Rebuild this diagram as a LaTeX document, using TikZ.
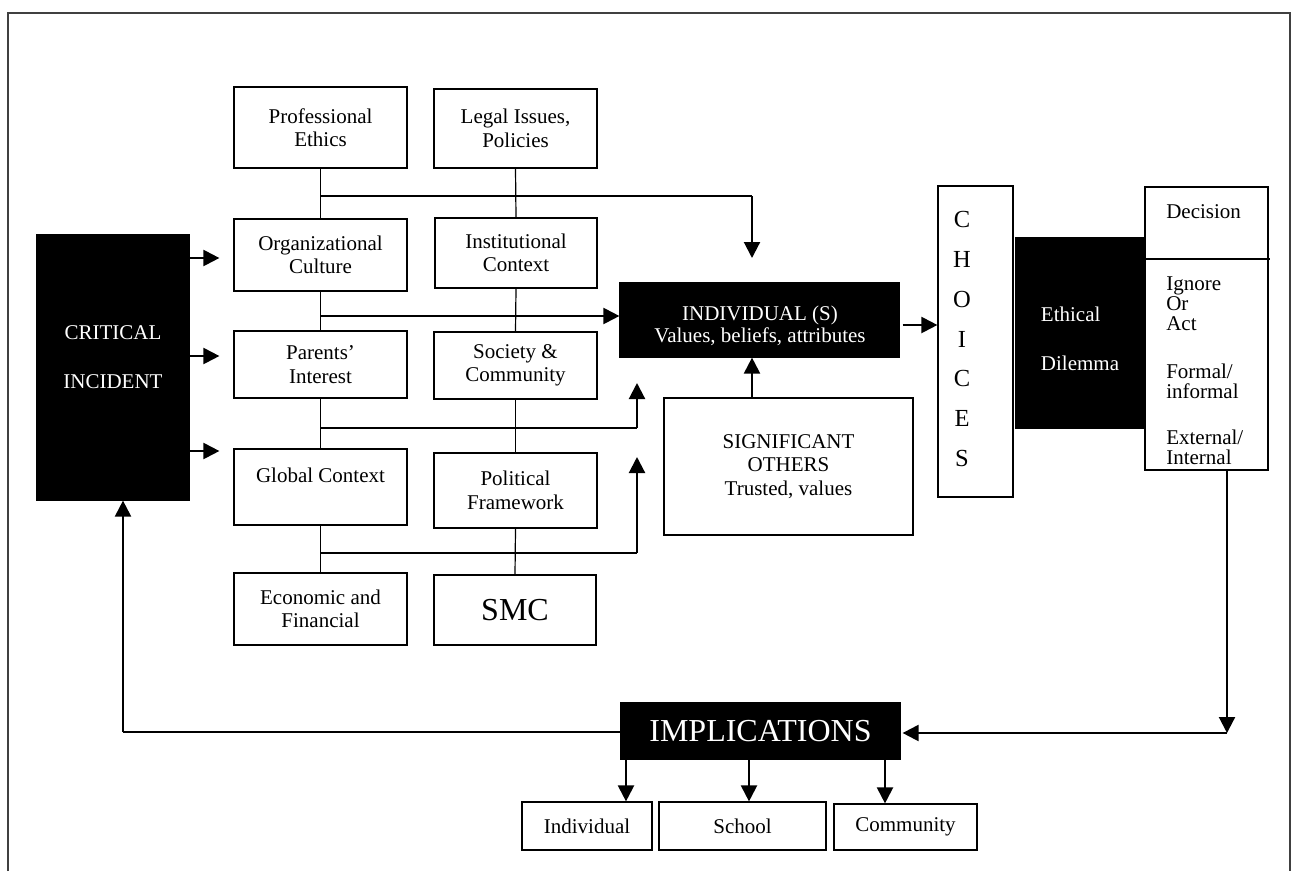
\documentclass[tikz,border=0pt]{standalone}
\usepackage{fontspec}
\setmainfont{Liberation Serif}
\usetikzlibrary{arrows.meta,calc}

% body text size and the larger headline size
\newcommand\bodyfont{\fontsize{15.75}{17.6}\selectfont}
\newcommand\bigfont{\fontsize{24}{28}\selectfont}

\begin{document}
\begin{tikzpicture}[x=0.75pt,y=-0.75pt,
  % a node spanning the corners (x1,y1) and (x2,y2)
  area/.style n args={4}{at={({(#1+#3)/2},{(#2+#4)/2})},
    minimum width={(#3-#1)*0.75pt}, minimum height={(#4-#2)*0.75pt}},
  box/.style={draw, line width=0.9pt, inner sep=0pt, align=center, font=\bodyfont},
  blk/.style={fill=black, draw=black, line width=0.9pt, inner sep=0pt, text=white, align=center, font=\bodyfont},
  wtext/.style={font=\bodyfont, text=white, inner sep=0pt},
  link/.style={line width=0.9pt},
  arr/.style={line width=1.6pt, -{Triangle[length=12pt,width=12pt]}},
  frame/.style={line width=1.5pt, draw=black!75},
]
\useasboundingbox (0,0) rectangle (1294,871);

% page frame (open at the bottom)
\draw[frame] (8,871) -- (8,13) -- (1290,13) -- (1290,871);

% critical incident
\node[blk, area={37}{235}{189}{500}] (ci) {};
\node[wtext, align=center] (citext) at (113,357.5) {CRITICAL\\[19pt]INCIDENT};

% contextual factors, two columns
\node[box, area={234}{87}{407}{168}]  (prof)  {Professional\\Ethics};
\node[box, area={434}{89}{597}{168}]  (legal) {Legal Issues,\\Policies};
\node[box, area={234}{219}{407}{291}] (org)   {Organizational\\Culture};
\node[box, area={435}{218}{597}{288}] (inst)  {Institutional\\Context};
\node[box, area={234}{331}{407}{398}] (par)   {Parents’\\Interest};
\node[box, area={434}{332}{597}{399}] (soc)   {Society \&\\Community};
\node[box, area={234}{449}{407}{525}] (glob)  {Global Context\\\mbox{}};
\node[box, area={434}{453}{597}{528}] (pol)   {Political\\Framework};
\node[box, area={234}{573}{407}{645}] (eco)   {Economic and\\Financial};
\node[box, area={434}{575}{596}{645}, font=\bigfont] (smc) {SMC};

% the individual and significant others
\node[blk, area={620}{283}{899}{357}] (indiv) {};
\node[wtext, align=center, font=\fontsize{15.75}{16.5}\selectfont] (indivtext) at (760,326) {INDIVIDUAL (S)\\Values, beliefs, attributes};
\node[box, area={664}{398}{913}{535}] (sig) {SIGNIFICANT\\OTHERS\\Trusted, values};

% choices, dilemma, decision
\node[box, area={938}{186}{1013}{497}] (choices) {};
\node[font=\fontsize{18.4}{29.8}\selectfont, align=center, inner sep=0pt] (choicestext) at (962,339) {C\\H\\O\\I\\C\\E\\S};
\node[blk, area={1016}{238}{1144}{428}] (eth) {};
\node[wtext, align=left] (ethtext) at (1080,339) {Ethical\\[19pt]Dilemma};
\node[box, area={1145}{187}{1268}{470}] (dec) {};
\node[font=\bodyfont, anchor=base west, inner sep=0pt] (dectitle) at (1166,218) {Decision};
\draw[line width=1.6pt] ($(dec.west |- 0,259)+(2,0)$) -- ($(dec.east |- 0,259)+(1,0)$);
\node[font=\fontsize{15.75}{15}\selectfont, align=left, anchor=north west, inner sep=0pt] (decopts) at (1166,276)
  {Ignore\\Or\\Act\\[21.3pt]Formal/\\informal\\[19.3pt]External/\\Internal};

% implications and who they reach
\node[blk, area={621}{703}{900}{759}, font=\bigfont] (impl) {IMPLICATIONS};
\node[box, area={522}{802}{652}{850}] (ind2) {Individual};
\node[box, area={659}{802}{826}{850}] (sch)  {School};
\node[box, area={834}{804}{977}{850}] (com)  {Community\strut};

% column spines
\draw[link] (prof.south) -- (org.north);
\draw[link] (legal.south) -- (inst.north);
\draw[link] (org.south) -- (par.north);
\draw[link] (inst.south) -- (soc.north);
\draw[link] (par.south) -- (glob.north);
\draw[link] (soc.south) -- (pol.north);
\draw[link] (glob.south) -- (eco.north);
\draw[link] (pol.south) -- (smc.north);

% branches feeding the individual
\coordinate (b1) at (prof.south |- 0,196);
\coordinate (k1) at (752,196);
\coordinate (e1) at (752,258);
\draw[link] (b1) -- (k1);
\draw[arr] (k1) -- (e1);

\draw[arr] (org.south |- 0,316) -- (indiv.west |- 0,316);

\coordinate (b3) at (par.south |- 0,428);
\coordinate (k3) at (637,428);
\coordinate (e3) at (637,383);
\draw[link] (b3) -- (k3);
\draw[arr] (k3) -- (e3);

\coordinate (b4) at (glob.south |- 0,553);
\coordinate (k4) at (637,553);
\coordinate (e4) at (637,457);
\draw[link] (b4) -- (k4);
\draw[arr] (k4) -- (e4);

\draw[arr] (sig.north -| 752,0) -- (indiv.south -| 752,0);
\draw[arr] ($(indiv.east |- 0,325)+(3,0)$) -- (choices.west |- 0,325);

% critical incident into the context
\draw[arr] (ci.east |- 0,258) -- ($(org.west |- 0,258)+(-14,0)$);
\draw[arr] (ci.east |- 0,356) -- ($(par.west |- 0,356)+(-14,0)$);
\draw[arr] (ci.east |- 0,451) -- ($(glob.west |- 0,451)+(-14,0)$);

% decision to implications
\coordinate (dc) at (1227,733);
\draw[arr] (dec.south -| dc) -- (dc);
\draw[arr, shorten >=1.5pt] (dc) -- (impl.east |- dc);

% implications down to the three levels
\draw[arr] (impl.south -| 626,0) -- (ind2.north -| 626,0);
\draw[arr] (impl.south -| 749,0) -- (sch.north -| 749,0);
\draw[arr] (impl.south -| 885,0) -- (com.north -| 885,0);

% feedback loop back to the incident
\coordinate (fb) at (123,732);
\draw[link] (impl.west |- fb) -- (fb);
\draw[arr] (fb) -- (fb |- ci.south);
\end{tikzpicture}
\end{document}
